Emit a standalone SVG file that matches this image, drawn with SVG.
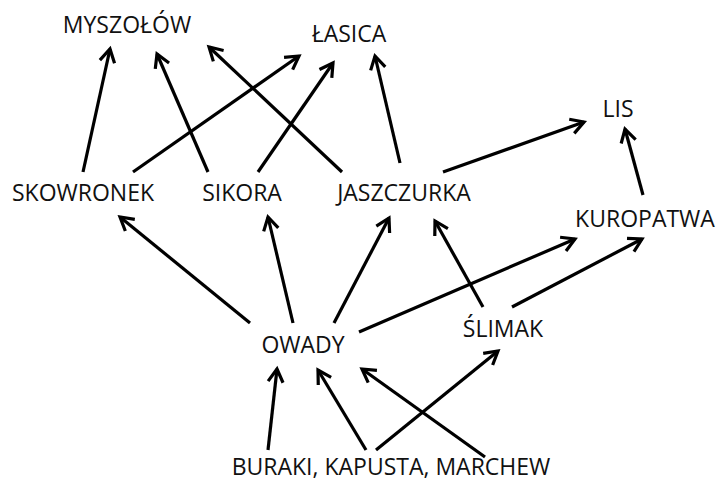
<svg xmlns="http://www.w3.org/2000/svg" width="718" height="482" viewBox="0 0 718 482">
<style>
text{font-family:"Open Sans","Liberation Sans",sans-serif;font-size:23px;fill:#111;text-anchor:middle}
.c line{stroke:#000;stroke-width:3.2;marker-end:url(#a)}
</style>
<defs>
<marker id="a" markerUnits="userSpaceOnUse" markerWidth="30" markerHeight="30" viewBox="-20 -15 30 30" refX="0" refY="0" orient="auto">
<path d="M-13,-7.5 L0,0 L-13,7.5" fill="none" stroke="#000" stroke-width="3.2" stroke-linejoin="miter"/>
</marker>
</defs>
<rect width="718" height="482" fill="#fff"/>
<g class="c" id="connectors">
<line x1="83" y1="172" x2="110" y2="49"/>
<line x1="208" y1="172" x2="157" y2="54"/>
<line x1="342" y1="172" x2="209" y2="47"/>
<line x1="133" y1="172" x2="299" y2="56"/>
<line x1="258" y1="172" x2="333" y2="63"/>
<line x1="400" y1="163" x2="375" y2="56"/>
<line x1="443" y1="172" x2="584" y2="122"/>
<line x1="643" y1="195" x2="625" y2="129"/>
<line x1="359" y1="332" x2="575" y2="239"/>
<line x1="512" y1="307" x2="642" y2="239"/>
<line x1="483" y1="307" x2="435" y2="221"/>
<line x1="250" y1="323" x2="120" y2="217"/>
<line x1="293" y1="323" x2="268" y2="217"/>
<line x1="334" y1="323" x2="389" y2="218"/>
<line x1="268" y1="450" x2="277" y2="369"/>
<line x1="366" y1="450" x2="318" y2="370"/>
<line x1="485" y1="457" x2="362" y2="369"/>
<line x1="376" y1="450" x2="498" y2="351"/>
</g>
<g id="myszolow"><text x="127" y="33">MYSZOŁÓW</text></g>
<g id="lasica"><text x="349" y="42">ŁASICA</text></g>
<g id="lis"><text x="618" y="117">LIS</text></g>
<g id="skowronek"><text x="83" y="201">SKOWRONEK</text></g>
<g id="sikora"><text x="242" y="201">SIKORA</text></g>
<g id="jaszczurka"><text x="404" y="201">JASZCZURKA</text></g>
<g id="kuropatwa"><text x="645" y="227">KUROPATWA</text></g>
<g id="slimak"><text x="503" y="337">ŚLIMAK</text></g>
<g id="owady"><text x="303" y="353">OWADY</text></g>
<g id="buraki"><text x="391" y="475">BURAKI, KAPUSTA, MARCHEW</text></g>
</svg>
